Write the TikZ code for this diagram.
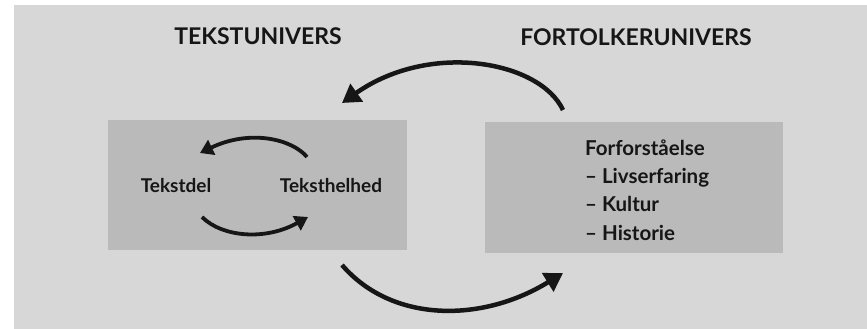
\documentclass[tikz,border=0pt]{standalone}
\usepackage{fontspec}
\setmainfont{Lato}
\usetikzlibrary{arrows.meta}
\definecolor{bgg}{RGB}{215,215,215}
\definecolor{boxg}{RGB}{186,186,186}
\definecolor{ink}{RGB}{22,22,22}
\tikzset{
  x=1pt,y=1pt,
  panel/.style={fill=boxg,draw=none,minimum width=#1,inner sep=0pt},
  title/.style={font=\fontsize{23}{26}\selectfont\bfseries,text=ink,inner sep=0pt},
  lbl/.style={font=\fontsize{19}{22}\selectfont\bfseries,text=ink,inner sep=0pt},
  bigarr/.style={draw=ink,line width=4.5pt,-{Triangle[length=18pt,width=21pt]}},
  smallarr/.style={draw=ink,line width=3.8pt,-{Triangle[length=13pt,width=16pt]}},
}
\begin{document}
\begin{tikzpicture}
\useasboundingbox (0,0) rectangle (867,329);
\fill[white] (0,0) rectangle (867,329);
\fill[bgg] (14,0) rectangle (867,324);
% panels
\node[panel=299pt,minimum height=130pt] (lbox) at (257.5,144) {};
\node[panel=298pt,minimum height=131pt] (rbox) at (634,141.5) {};
% titles
\node[title] (t1) at (258,293) {TEKSTUNIVERS};
\node[title] (t2) at (636,292) {FORTOLKERUNIVERS};
% inner labels
\node[lbl] (del) at (176,143) {Tekstdel};
\node[lbl] (hel) at (331,143) {Teksthelhed};
\node[lbl,anchor=west,align=left,font=\fontsize{20.5}{28.3}\selectfont\bfseries] (for) at (585,139)
  {Forforståelse\\– Livserfaring\\– Kultur\\– Historie};
% coordinates for arrow ends
\coordinate (a1s) at (563,219);
\coordinate (a1e) at (342,226);
\coordinate (a2s) at (342,64);
\coordinate (a2e) at (563,56);
\coordinate (a3s) at (307,172);
\coordinate (a3e) at (200,176);
\coordinate (a4s) at (202,112);
\coordinate (a4e) at (308,112);
% big arrows
\draw[bigarr] (a1s) .. controls (540,268) and (430,288) .. (a1e);
\draw[bigarr] (a2s) .. controls (392,6) and (482,6) .. (a2e);
% small arrows
\draw[smallarr] (a3s) .. controls (292,190) and (250,200) .. (a3e);
\draw[smallarr] (a4s) .. controls (222,92) and (265,88) .. (a4e);
\end{tikzpicture}
\end{document}
